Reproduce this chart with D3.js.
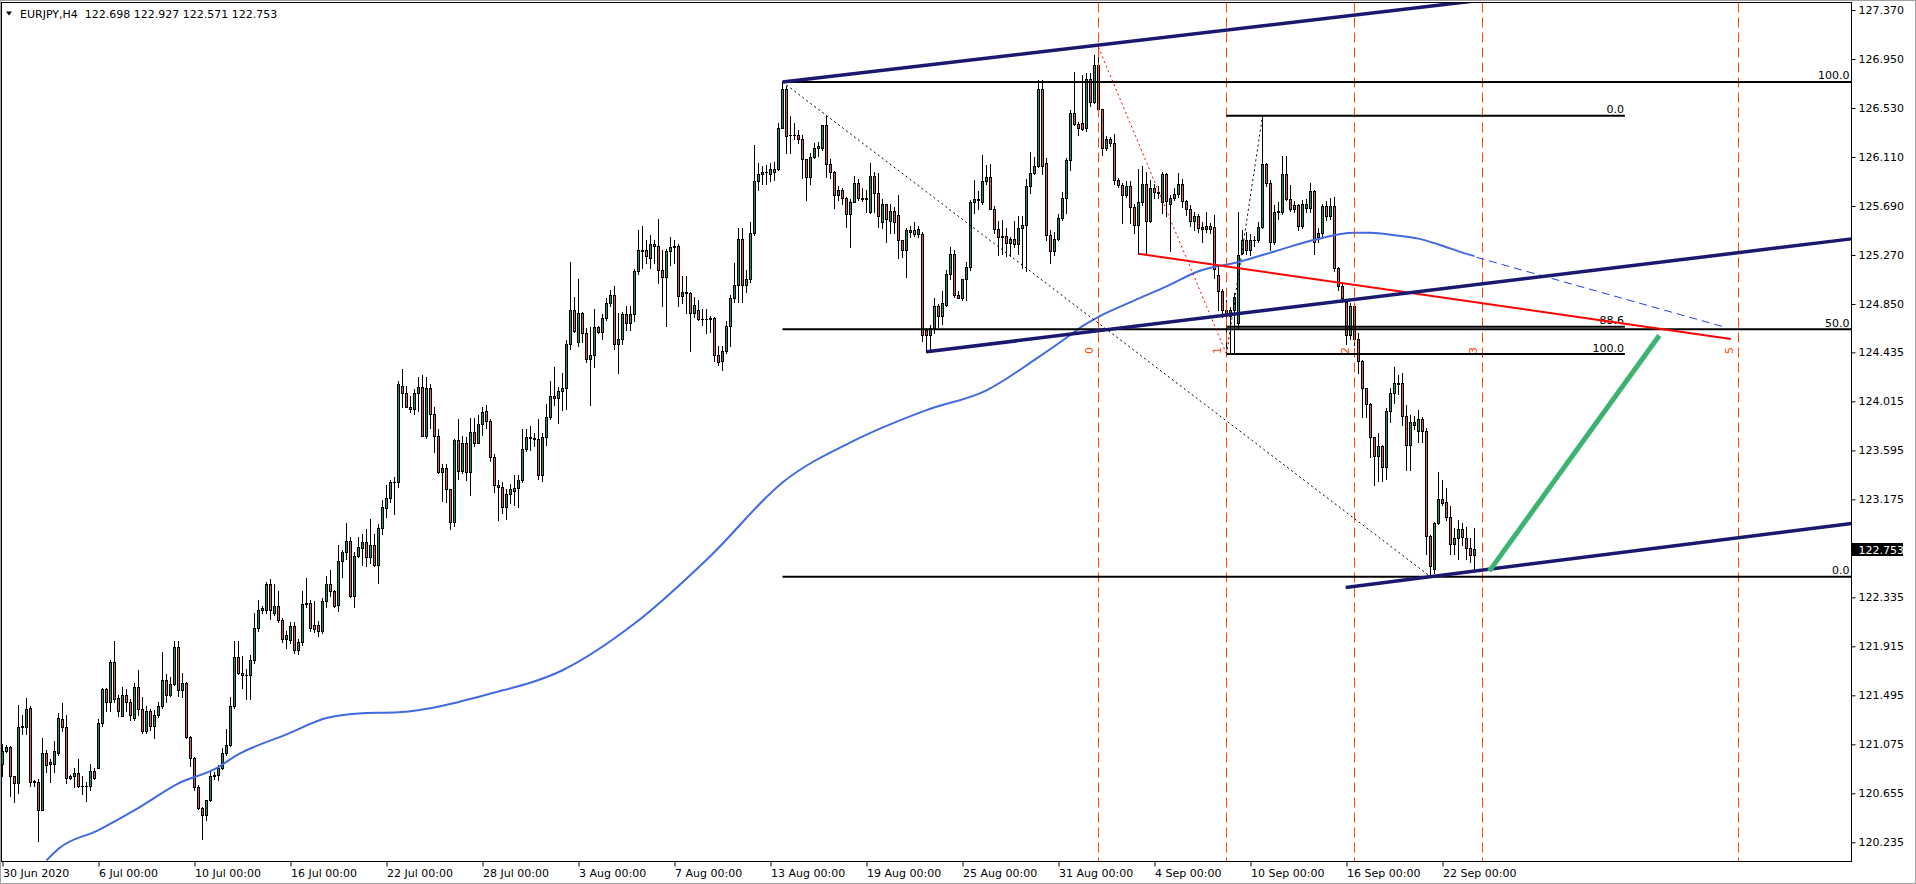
<!DOCTYPE html>
<html>
<head>
<meta charset="utf-8">
<script src="https://cdn.jsdelivr.net/npm/d3@7"></script>
<style>
html, body { margin: 0; padding: 0; background: #fff; }
svg { display: block; font-family: "DejaVu Sans", sans-serif; font-size: 11px; }
</style>
</head>
<body>
<svg id="chart" width="1916" height="884"></svg>
<script>
// EURJPY H4, 30 Jun - 23 Sep 2020, one value per bar
const title = "EURJPY,H4  122.698 122.927 122.571 122.753";

const opens = [
	120.91,121.02,121.05,120.80,120.74,121.22,121.22,121.39,120.75,120.75,
	120.51,121.00,120.91,120.91,121.00,121.29,121.22,120.79,120.80,120.83,
	120.72,120.72,120.72,120.85,120.87,121.26,121.55,121.44,121.78,121.47,
	121.32,121.50,121.44,121.30,121.57,121.38,121.19,121.36,121.23,121.33,
	121.40,121.63,121.50,121.59,121.91,121.54,121.60,121.14,120.96,120.71,
	120.53,120.47,120.60,120.80,120.81,120.87,121.00,121.07,121.40,121.82,
	121.69,121.67,121.67,121.80,122.07,122.23,122.23,122.45,122.20,122.26,
	122.14,121.98,121.97,122.09,121.88,121.95,122.28,122.29,122.10,122.10,
	122.05,122.30,122.45,122.39,122.27,122.65,122.72,122.82,122.35,122.69,
	122.76,122.81,122.68,122.78,122.61,122.93,123.10,123.19,123.32,123.32,
	124.15,124.09,123.97,123.95,124.09,124.14,123.72,124.13,123.91,123.72,
	123.41,123.44,123.26,122.98,123.68,123.42,123.66,123.41,123.75,123.66,
	123.82,123.93,123.85,123.54,123.30,123.28,123.11,123.22,123.25,123.27,
	123.34,123.61,123.71,123.70,123.69,123.38,123.71,123.88,124.06,124.04,
	124.10,124.13,124.51,124.80,124.52,124.77,124.60,124.38,124.41,124.65,
	124.61,124.73,124.86,124.93,124.51,124.55,124.76,124.69,124.76,125.13,
	125.31,125.31,125.24,125.36,125.35,125.14,125.08,125.30,125.34,125.35,
	124.92,124.95,124.94,124.77,124.80,124.72,124.72,124.72,124.73,124.41,
	124.36,124.45,124.66,124.90,125.01,125.41,125.01,125.06,125.46,125.90,
	125.96,125.98,125.96,125.98,126.01,126.36,126.69,126.30,126.30,126.30,
	126.26,126.09,125.94,126.11,126.19,126.19,126.38,126.05,125.98,125.78,
	125.83,125.76,125.62,125.72,125.89,125.76,125.75,125.64,125.95,125.80,
	125.55,125.71,125.56,125.65,125.61,125.40,125.31,125.48,125.48,125.45,
	125.45,124.63,124.58,124.64,124.83,124.75,124.84,125.11,125.28,124.93,
	124.90,125.06,125.17,125.72,125.75,125.72,125.90,125.94,125.66,125.49,
	125.42,125.43,125.37,125.41,125.36,125.50,125.53,125.86,125.97,126.03,
	126.69,126.06,125.44,125.30,125.41,125.59,125.76,126.08,126.49,126.39,
	126.40,126.36,126.78,126.58,126.90,126.52,126.19,126.26,126.23,125.91,
	125.87,125.78,125.86,125.68,125.53,125.72,125.88,125.56,125.84,125.81,
	125.72,125.96,125.71,125.76,125.79,125.88,125.73,125.66,125.56,125.60,
	125.51,125.49,125.52,125.51,125.10,124.96,124.80,124.75,124.80,124.69,
	125.29,125.40,125.31,125.40,125.40,125.51,126.05,125.89,125.38,125.64,
	125.64,125.96,125.75,125.66,125.70,125.52,125.67,125.67,125.82,125.42,
	125.46,125.69,125.60,125.69,125.16,125.00,124.87,124.58,124.83,124.55,
	124.36,124.13,123.99,123.71,123.55,123.63,123.45,123.93,124.09,124.17,
	124.17,123.89,123.64,123.84,123.76,123.86,123.76,122.86,122.58,122.97,
	123.18,123.15,123.02,122.79,122.84,122.92,122.84,122.76,122.698
];
const highs = [
	121.08,121.07,121.06,120.80,121.41,121.33,121.47,121.40,120.77,120.78,
	121.13,121.03,120.95,121.10,121.34,121.43,121.33,120.81,120.87,120.95,
	120.80,120.75,120.91,120.87,121.29,121.56,121.56,121.80,121.96,121.50,
	121.57,121.55,121.46,121.60,121.71,121.48,121.40,121.38,121.37,121.44,
	121.87,121.68,121.65,121.96,121.96,121.69,121.61,121.15,120.97,120.73,
	120.54,120.60,120.85,120.84,120.90,121.04,121.21,121.48,121.96,121.96,
	121.83,121.72,121.84,122.20,122.31,122.26,122.47,122.49,122.45,122.39,
	122.16,122.05,122.12,122.12,121.98,122.39,122.50,122.31,122.30,122.13,
	122.33,122.52,122.57,122.40,122.78,122.74,122.97,122.85,122.72,122.85,
	122.88,122.92,123.01,122.88,122.96,123.17,123.30,123.34,123.37,124.19,
	124.29,124.15,124.06,124.12,124.22,124.24,124.22,124.16,123.97,123.78,
	123.48,123.48,123.26,123.69,123.86,123.72,123.71,123.87,123.87,123.90,
	123.97,123.98,123.86,123.56,123.34,123.32,123.26,123.31,123.38,123.38,
	123.78,123.78,123.80,123.74,123.86,123.74,123.99,124.19,124.31,124.14,
	124.26,124.54,125.21,124.91,125.06,124.78,124.64,124.65,124.81,124.66,
	124.76,124.90,124.97,125.00,124.77,124.78,124.83,124.83,125.15,125.48,
	125.52,125.40,125.44,125.40,125.58,125.31,125.32,125.42,125.40,125.36,
	125.09,125.09,124.95,124.91,124.88,124.81,124.81,124.75,124.74,124.49,
	124.49,124.70,124.93,125.20,125.50,125.50,125.14,125.55,126.21,126.06,
	126.03,126.04,126.06,126.07,126.40,126.753,126.72,126.46,126.40,126.34,
	126.30,126.09,126.14,126.23,126.24,126.38,126.46,126.09,125.99,125.86,
	125.84,125.77,125.75,125.95,125.92,125.84,125.83,126.06,125.98,125.97,
	125.75,125.71,125.71,125.68,125.78,125.40,125.50,125.52,125.55,125.52,
	125.47,124.64,124.67,124.90,124.85,124.96,125.14,125.34,125.31,124.96,
	125.06,125.21,125.74,125.91,125.82,126.13,126.04,126.05,125.69,125.56,
	125.57,125.50,125.42,125.56,125.60,125.60,125.92,126.15,126.11,126.77,
	126.77,126.10,125.48,125.47,125.62,125.81,126.10,126.51,126.84,126.41,
	126.81,126.83,126.83,126.98,127.05,126.52,126.29,126.28,126.31,125.93,
	125.89,125.90,125.90,125.71,126.01,126.03,125.98,125.91,125.88,125.86,
	125.98,125.97,125.78,125.84,125.97,125.92,125.74,125.70,125.64,125.62,
	125.55,125.64,125.54,125.61,125.17,124.98,124.88,124.82,124.94,125.64,
	125.48,125.47,125.45,125.43,125.55,126.46,126.06,125.91,125.70,125.72,
	126.12,126.12,125.87,125.73,125.71,125.74,125.75,125.89,125.83,125.50,
	125.71,125.73,125.76,125.77,125.17,125.03,124.89,124.86,124.86,124.60,
	124.37,124.13,124.00,123.71,123.74,123.64,123.96,124.13,124.31,124.24,
	124.26,123.98,123.90,123.89,123.94,123.88,123.79,122.87,122.98,123.41,
	123.34,123.27,123.12,122.93,123.00,122.97,122.94,122.84,122.927
];
const lows = [
	120.80,121.01,120.63,120.58,120.66,121.16,121.16,120.72,120.72,120.25,
	120.51,120.84,120.75,120.84,120.98,121.19,120.74,120.78,120.71,120.71,
	120.65,120.59,120.68,120.78,120.87,121.23,121.36,121.36,121.44,121.32,
	121.32,121.36,121.28,121.28,121.33,121.17,121.17,121.20,121.13,121.31,
	121.39,121.44,121.49,121.58,121.49,121.48,121.13,120.89,120.68,120.52,
	120.26,120.43,120.59,120.78,120.77,120.86,120.98,121.06,121.39,121.68,
	121.56,121.46,121.46,121.77,122.05,122.20,122.20,122.15,122.18,122.12,
	121.95,121.90,121.94,121.86,121.85,121.93,122.25,122.05,122.04,122.00,
	122.03,122.25,122.35,122.25,122.22,122.51,122.66,122.34,122.25,122.68,
	122.61,122.60,122.63,122.60,122.46,122.88,123.02,123.15,123.05,123.28,
	123.97,123.97,123.92,123.91,123.93,123.72,123.70,123.79,123.58,123.40,
	123.16,123.15,122.92,122.95,123.35,123.40,123.34,123.21,123.63,123.66,
	123.73,123.79,123.50,123.24,123.00,123.06,123.01,123.14,123.13,123.11,
	123.32,123.59,123.60,123.63,123.35,123.33,123.64,123.86,123.98,123.83,
	123.94,123.95,124.46,124.61,124.49,124.52,124.35,123.98,124.31,124.60,
	124.55,124.71,124.83,124.46,124.26,124.51,124.63,124.63,124.70,125.11,
	125.16,125.20,125.16,125.20,125.03,124.83,124.66,125.18,125.20,124.83,
	124.86,124.77,124.45,124.74,124.71,124.67,124.60,124.61,124.36,124.33,
	124.28,124.43,124.49,124.87,124.87,124.87,124.95,125.04,125.44,125.83,
	125.88,125.88,125.90,125.91,126.00,126.36,126.14,126.14,126.26,126.23,
	125.93,125.74,125.88,126.10,126.12,126.17,125.94,125.93,125.67,125.74,
	125.71,125.51,125.34,125.72,125.74,125.73,125.64,125.63,125.64,125.51,
	125.50,125.38,125.46,125.46,125.24,125.25,125.08,125.42,125.43,125.42,
	124.53,124.44,124.46,124.60,124.65,124.68,124.83,125.06,124.91,124.90,
	124.88,124.88,125.14,125.63,125.66,125.71,125.88,125.66,125.46,125.27,
	125.28,125.26,125.26,125.34,125.28,125.16,125.13,125.80,125.96,126.02,
	125.96,125.40,125.20,125.27,125.40,125.57,125.63,126.00,126.38,126.30,
	126.34,126.33,126.55,126.57,126.51,126.13,126.17,126.20,125.88,125.85,
	125.54,125.77,125.54,125.46,125.28,125.70,125.28,125.55,125.76,125.76,
	125.63,125.60,125.30,125.74,125.77,125.68,125.61,125.52,125.48,125.47,
	125.38,125.47,125.46,125.07,124.80,124.74,124.42,124.44,124.44,124.64,
	125.28,125.28,125.27,125.35,125.38,125.50,125.86,125.31,125.36,125.58,
	125.62,125.74,125.65,125.64,125.48,125.50,125.64,125.64,125.28,125.38,
	125.43,125.57,125.58,125.13,124.97,124.87,124.51,124.55,124.50,124.26,
	123.88,123.88,123.54,123.30,123.33,123.33,123.35,123.84,124.00,124.08,
	123.81,123.43,123.43,123.78,123.67,123.67,122.71,122.512,122.54,122.96,
	123.13,123.00,122.71,122.71,122.66,122.78,122.66,122.64,122.571
];
const closes = [
	121.02,121.05,120.80,120.74,121.22,121.23,121.38,120.75,120.76,120.51,
	121.00,120.90,120.92,121.02,121.30,121.22,120.79,120.80,120.83,120.72,
	120.72,120.72,120.85,120.79,121.26,121.55,121.44,121.78,121.46,121.36,
	121.50,121.44,121.33,121.57,121.38,121.19,121.36,121.23,121.33,121.40,
	121.63,121.50,121.59,121.91,121.54,121.60,121.14,120.96,120.71,120.53,
	120.47,120.60,120.80,120.81,120.87,121.00,121.07,121.40,121.82,121.69,
	121.67,121.67,121.80,122.07,122.23,122.24,122.45,122.23,122.26,122.14,
	121.98,122.01,122.09,121.88,121.95,122.28,122.29,122.07,122.06,122.05,
	122.30,122.45,122.39,122.26,122.65,122.72,122.82,122.35,122.69,122.77,
	122.81,122.68,122.78,122.61,122.93,123.11,123.19,123.32,123.32,124.16,
	124.09,123.97,123.95,124.09,124.14,123.72,124.13,123.91,123.72,123.41,
	123.44,123.26,122.98,123.68,123.42,123.66,123.41,123.75,123.66,123.82,
	123.92,123.85,123.54,123.30,123.28,123.11,123.22,123.26,123.27,123.34,
	123.61,123.71,123.70,123.69,123.38,123.71,123.88,124.06,124.04,124.10,
	124.13,124.51,124.80,124.62,124.77,124.60,124.38,124.41,124.65,124.61,
	124.73,124.86,124.93,124.51,124.55,124.76,124.69,124.76,125.13,125.31,
	125.30,125.26,125.36,125.35,125.14,125.08,125.30,125.34,125.35,124.92,
	124.95,124.94,124.77,124.84,124.72,124.72,124.72,124.73,124.41,124.35,
	124.45,124.66,124.90,125.01,125.41,125.01,125.06,125.46,125.90,125.96,
	125.98,125.98,126.01,126.01,126.36,126.69,126.29,126.30,126.30,126.26,
	126.09,125.94,126.11,126.19,126.20,126.38,126.05,125.98,125.78,125.83,
	125.76,125.62,125.72,125.89,125.76,125.75,125.76,125.95,125.80,125.60,
	125.71,125.58,125.65,125.55,125.40,125.31,125.48,125.47,125.45,125.49,
	124.58,124.58,124.64,124.83,124.75,124.86,125.11,125.28,124.93,124.90,
	125.06,125.17,125.72,125.75,125.74,125.90,125.94,125.66,125.49,125.42,
	125.43,125.37,125.41,125.36,125.50,125.53,125.86,125.97,126.03,126.69,
	126.03,125.44,125.30,125.41,125.59,125.76,126.08,126.49,126.39,126.36,
	126.35,126.78,126.58,126.90,126.52,126.19,126.26,126.23,125.91,125.87,
	125.78,125.86,125.68,125.53,125.72,125.88,125.56,125.84,125.81,125.80,
	125.96,125.73,125.76,125.79,125.88,125.73,125.66,125.56,125.60,125.50,
	125.49,125.52,125.49,125.15,124.96,124.80,124.76,124.80,124.91,125.27,
	125.40,125.31,125.40,125.40,125.51,126.05,125.89,125.38,125.64,125.65,
	125.96,125.75,125.66,125.70,125.52,125.71,125.71,125.82,125.38,125.46,
	125.69,125.60,125.69,125.16,125.00,124.90,124.58,124.83,124.55,124.36,
	124.13,123.99,123.71,123.55,123.63,123.45,123.93,124.09,124.17,124.16,
	123.89,123.64,123.84,123.81,123.86,123.76,122.86,122.60,122.97,123.18,
	123.14,123.02,122.79,122.84,122.92,122.85,122.76,122.70,122.753
];

// moving average (blue), read at these bars
const maBars =   [11, 14, 24, 34, 44, 54, 58, 71, 81, 89, 99, 122, 140, 158, 177, 195, 213, 231, 246, 258, 266, 270, 274, 283, 291, 299, 309, 318, 328, 338, 342, 348, 354, 359, 365, 368];
const maValues = [120.08, 120.18, 120.34, 120.53, 120.74, 120.88, 120.97, 121.16, 121.30, 121.34, 121.35, 121.51, 121.71, 122.11, 122.69, 123.32, 123.68, 123.94, 124.11, 124.37, 124.56, 124.66, 124.74, 124.88, 125.00, 125.13, 125.21, 125.30, 125.40, 125.46, 125.46, 125.44, 125.41, 125.36, 125.29, 125.26];

const priceTicks = ["127.370","126.950","126.530","126.110","125.690","125.270","124.850","124.435","124.015",
	"123.595","123.175","122.335","121.915","121.495","121.075","120.655","120.235"];
const timeLabels = ["30 Jun 2020","6 Jul 00:00","10 Jul 00:00","16 Jul 00:00","22 Jul 00:00","28 Jul 00:00",
	"3 Aug 00:00","7 Aug 00:00","13 Aug 00:00","19 Aug 00:00","25 Aug 00:00","31 Aug 00:00",
	"4 Sep 00:00","10 Sep 00:00","16 Sep 00:00","22 Sep 00:00"];
const timeBars = [0, 24, 48, 72, 96, 120, 144, 168, 192, 216, 240, 264, 288, 312, 336, 360];

// drawn objects, anchored as [bar, price]
const channelLines = [
	[[195, 126.753], [274, 127.07]],
	[[231, 124.44], [274, 124.62]],
	[[335.8, 122.42], [357, 122.512]]
];
const mainFib = {from: 195, high: 126.753, low: 122.512, levels: [100, 50, 0], names: ["100.0", "50.0", "0.0"]};
const smallFib = {from: 306, to: 405.6, high: 126.464, low: 124.421, levels: [0, 88.6, 100], names: ["0.0", "88.6", "100.0"]};
const timeZoneStart = 274, timeZoneStep = 32, timeZoneLow = 124.42;
const timeZones = [0, 1, 2, 3, 5];
const blackDotted = [[[195, 126.753], [357, 122.512]], [[306, 124.42], [315, 126.46]]];
const redDotted = [[274, 127.05], [306, 124.42]];
const redLine = [[284, 125.28], [432.1, 124.55]];
const blueDashed = [[368.5, 125.25], [430.7, 124.65]];
const greenLine = [[371.7, 122.56], [414.2, 124.58]];

const plotLeft = 1.5, plotRight = 1851.5, plotTop = 2.5, plotBottom = 861.5;

const x = d3.scaleLinear().domain([0, 1]).range([2.5, 6.5]);   // 4 px per bar
const y = d3.scaleLinear().domain([120.235, 127.370]).range([842.3, 10]);
const lastBar = x.invert(plotRight);

const svg = d3.select('#chart');

function extend(p1, p2, bar) {
	let k = (p2[1] - p1[1]) / (p2[0] - p1[0]);
	return [bar, p1[1] + k * (bar - p1[0])];
}

function drawSegment(g, pts, color, width, dash) {
	let seg = g.append('line')
		.attr('x1', x(pts[0][0])).attr('y1', y(pts[0][1]))
		.attr('x2', x(pts[1][0])).attr('y2', y(pts[1][1]))
		.attr('stroke', color)
		.attr('stroke-width', width);
	if (dash) seg.attr('stroke-dasharray', dash);
	return seg;
}

function app() {
	svg.append('rect').attr('x', 0.5).attr('y', 0.5).attr('width', 1915).attr('height', 883)
		.attr('fill', '#fff').attr('stroke', '#a0a0a0');

	svg.append('clipPath').attr('id', 'plotClip')
		.append('rect')
		.attr('x', plotLeft).attr('y', plotTop)
		.attr('width', plotRight - plotLeft).attr('height', plotBottom - plotTop);

	let plot = svg.append('g').attr('clip-path', 'url(#plotClip)');

	drawCandles(plot);

	// moving average
	let maLine = d3.line()
		.x(d => x(d[0]))
		.y(d => y(d[1]))
		.curve(d3.curveMonotoneX);
	plot.append('path')
		.datum(d3.zip(maBars, maValues))
		.attr('d', maLine)
		.attr('fill', 'none')
		.attr('stroke', '#4169e1')
		.attr('stroke-width', 2);

	drawObjects(plot);
	drawAxes();

	svg.append('rect')
		.attr('x', plotLeft).attr('y', plotTop)
		.attr('width', plotRight - plotLeft).attr('height', plotBottom - plotTop)
		.attr('fill', 'none').attr('stroke', '#000');

	// header
	svg.append('path').attr('d', 'M6,11.5 L12,11.5 L9,15.5 Z').attr('fill', '#000');
	svg.append('text').attr('x', 20).attr('y', 18).attr('fill', '#000')
		.style('white-space', 'pre')
		.text(title);
}

function drawCandles(plot) {
	let bars = closes.map((c, i) => ({i: i, o: opens[i], h: highs[i], l: lows[i], c: c}));
	let g = plot.append('g');

	g.selectAll('line.wick')
		.data(bars)
		.enter()
		.append('line')
		.attr('class', 'wick')
		.attr('x1', d => x(d.i)).attr('x2', d => x(d.i))
		.attr('y1', d => Math.round(y(d.h)))
		.attr('y2', d => Math.round(y(d.l)) + 1)
		.attr('stroke', '#000');

	g.selectAll('rect.body')
		.data(bars.filter(d => Math.round(y(Math.min(d.o, d.c))) - Math.round(y(Math.max(d.o, d.c))) >= 1))
		.enter()
		.append('rect')
		.attr('class', 'body')
		.attr('x', d => x(d.i) - 1)
		.attr('y', d => Math.round(y(Math.max(d.o, d.c))) + 0.5)
		.attr('width', 2)
		.attr('height', d => Math.round(y(Math.min(d.o, d.c))) - Math.round(y(Math.max(d.o, d.c))))
		.attr('fill', d => d.c >= d.o ? '#2e8b57' : '#cd5c5c')
		.attr('stroke', '#000');

	// doji: open and close on the same pixel row
	g.selectAll('line.doji')
		.data(bars.filter(d => Math.round(y(Math.min(d.o, d.c))) - Math.round(y(Math.max(d.o, d.c))) < 1))
		.enter()
		.append('line')
		.attr('class', 'doji')
		.attr('x1', d => x(d.i) - 1.5).attr('x2', d => x(d.i) + 1.5)
		.attr('y1', d => Math.round(y(d.c)) + 0.5).attr('y2', d => Math.round(y(d.c)) + 0.5)
		.attr('stroke', '#000');
}

function drawObjects(plot) {
	let g = plot.append('g');

	// fibonacci time zones
	timeZones.forEach(k => {
		let bar = timeZoneStart + k * timeZoneStep;
		g.append('line')
			.attr('x1', x(bar)).attr('x2', x(bar))
			.attr('y1', plotTop).attr('y2', plotBottom)
			.attr('stroke', '#ff4500')
			.attr('stroke-dasharray', '10,5');
		g.append('text')
			.attr('transform', 'translate(' + (x(bar) - 6) + ',' + y(timeZoneLow) + ') rotate(-90)')
			.attr('fill', '#ff4500')
			.text(k);
	});

	// main retracement, 13 Aug high to 21 Sep low
	mainFib.levels.forEach((lv, i) => {
		let py = y(mainFib.low + (mainFib.high - mainFib.low) * lv / 100);
		g.append('line')
			.attr('x1', x(mainFib.from)).attr('x2', plotRight)
			.attr('y1', py).attr('y2', py)
			.attr('stroke', '#000').attr('stroke-width', 2);
		g.append('text')
			.attr('x', plotRight - 2).attr('y', py - 2.5)
			.attr('text-anchor', 'end').attr('fill', '#000')
			.text(mainFib.names[i]);
	});

	// small retracement, 7 Sep low to 10 Sep high
	smallFib.levels.forEach((lv, i) => {
		let py = y(smallFib.high - (smallFib.high - smallFib.low) * lv / 100);
		g.append('line')
			.attr('x1', x(smallFib.from)).attr('x2', x(smallFib.to))
			.attr('y1', py).attr('y2', py)
			.attr('stroke', '#000').attr('stroke-width', 2);
		g.append('text')
			.attr('x', x(smallFib.to) - 1).attr('y', py - 2.5)
			.attr('text-anchor', 'end').attr('fill', '#000')
			.text(smallFib.names[i]);
	});

	blackDotted.forEach(seg => drawSegment(g, seg, '#000', 1, '2,3'));
	drawSegment(g, redDotted, '#ff0000', 1, '2,3');
	drawSegment(g, redLine, '#ff0000', 2);
	drawSegment(g, blueDashed, '#1f3cff', 1, '8,5');

	// channel lines run to the right edge
	channelLines.forEach(seg => {
		drawSegment(g, [seg[0], extend(seg[0], seg[1], lastBar)], '#191970', 3.5);
	});

	drawSegment(g, greenLine, '#3cb371', 5);
}

function drawAxes() {
	let yAxis = d3.axisRight(y)
		.tickValues(priceTicks.map(Number))
		.tickFormat((d, i) => priceTicks[i])
		.tickSize(4)
		.tickSizeOuter(0)
		.tickPadding(3);
	svg.append('g')
		.attr('transform', 'translate(' + plotRight + ',0)')
		.call(yAxis)
		.call(a => a.select('.domain').remove())
		.attr('font-family', null).attr('font-size', null)
		.selectAll('text').attr('fill', '#000');

	let xAxis = d3.axisBottom(x)
		.tickValues(timeBars)
		.tickFormat((d, i) => timeLabels[i])
		.tickSize(5)
		.tickSizeOuter(0)
		.tickPadding(3);
	svg.append('g')
		.attr('transform', 'translate(0,' + plotBottom + ')')
		.call(xAxis)
		.call(a => a.select('.domain').remove())
		.attr('font-family', null).attr('font-size', null)
		.attr('text-anchor', 'start')
		.selectAll('text').attr('fill', '#000');

	// last price box
	let last = closes[closes.length - 1];
	let by = Math.round(y(last));
	svg.append('rect')
		.attr('x', plotRight + 0.5).attr('y', by - 6)
		.attr('width', 51).attr('height', 13)
		.attr('fill', '#000');
	svg.append('text')
		.attr('x', plotRight + 7).attr('y', by + 4.5)
		.attr('fill', '#fff')
		.text(last.toFixed(3));
}

app();
</script>
</body>
</html>
